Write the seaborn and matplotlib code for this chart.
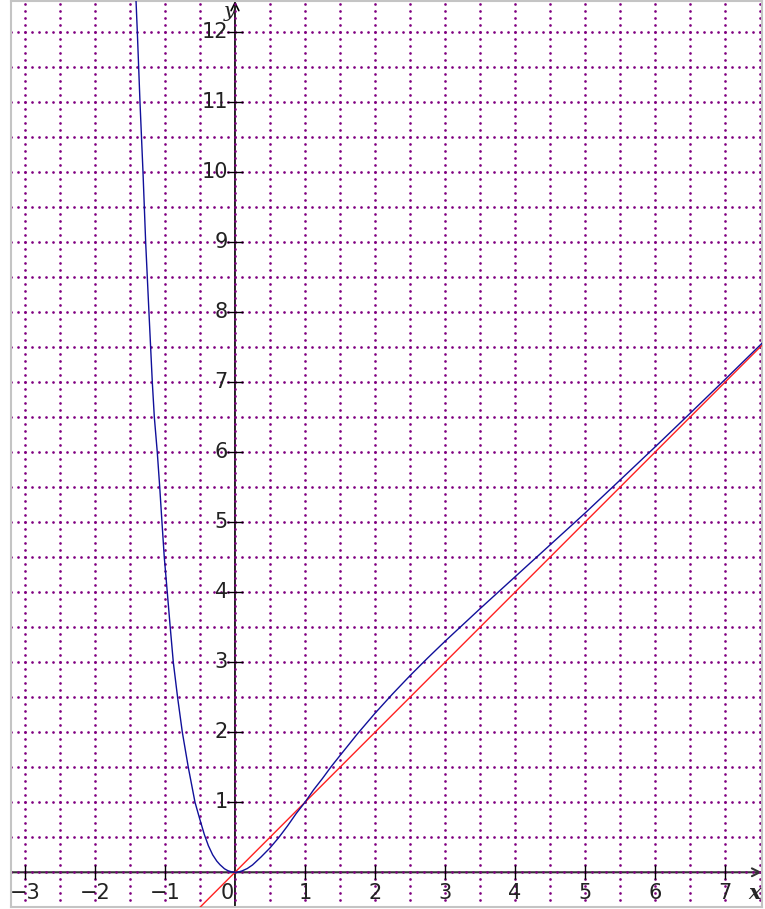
import matplotlib
matplotlib.use("Agg")
import matplotlib.pyplot as plt
import seaborn as sns
import pandas as pd
import numpy as np

# ---- data ----
curve_x = [-1.414, -1.395, -1.357, -1.314, -1.276, -1.229, -1.181, -1.152, -1.11, -1.075,
           -1.043, -1.01, -0.967, -0.925, -0.881, -0.82, -0.752, -0.667, -0.571, -0.5,
           -0.438, -0.38, -0.319, -0.26, -0.214, -0.15, -0.1, -0.05, 0.0, 0.05, 0.1,
           0.175, 0.25, 0.375, 0.5, 0.625, 0.75, 0.875, 1.0, 1.125, 1.25, 1.375, 1.5,
           1.75, 2.0, 2.25, 2.5, 2.75, 3.0, 3.5, 4.0, 4.5, 5.0, 5.5, 6.0, 6.5, 7.0, 7.6]
curve_y = [12.46, 12.0, 11.0, 10.0, 9.0, 8.0, 7.0, 6.5, 6.0, 5.5,
           5.0, 4.5, 4.0, 3.5, 3.0, 2.5, 2.0, 1.5, 1.0, 0.75,
           0.54, 0.38, 0.25, 0.16, 0.108, 0.05, 0.022, 0.006, 0.0, 0.004, 0.019,
           0.053, 0.104, 0.221, 0.348, 0.495, 0.661, 0.84, 1.0, 1.18, 1.34, 1.51, 1.667,
           1.978, 2.271, 2.546, 2.808, 3.058, 3.299, 3.764, 4.22, 4.675, 5.13, 5.601, 6.074, 6.554, 7.038, 7.626]
line_x = [-0.6, 7.6]
line_y = [-0.6, 7.6]
xtick_vals = [-3, -2, -1, 0, 1, 2, 3, 4, 5, 6, 7]
ytick_vals = [1, 2, 3, 4, 5, 6, 7, 8, 9, 10, 11, 12]
grid_step = 0.5

W, H = 765, 909
fig = plt.figure(figsize=(W / 100, H / 100), dpi=100)
sns.set_style("white")
plt.rcParams['font.family'] = ['DejaVu Sans']

ax = fig.add_axes([11 / W, 2 / H, 751 / W, 906 / H])
xmin, xmax = -3.2, 7.53
ymin, ymax = -0.496, 12.447
ax.set_xlim(xmin, xmax)
ax.set_ylim(ymin, ymax)

# dotted purple grid every 0.5
gx = np.arange(-3.0, 7.51, grid_step)
gy = np.arange(-0.5, 12.51, grid_step)
dot = (0, (0.01, 2.51))
gkw = dict(color="#800080", lw=2.0, ls=dot, dash_capstyle="round", zorder=2)
for v in gx:
    ax.axvline(v, **gkw)
for v in gy:
    ax.axhline(v, **gkw)

# axes with arrows
ax.annotate("", xy=(xmax, 0), xytext=(xmin, 0),
            arrowprops=dict(arrowstyle="->", lw=1.5, color="#333333", shrinkA=0, shrinkB=0,
                            mutation_scale=14), zorder=1)
ax.annotate("", xy=(0, ymax), xytext=(0, ymin),
            arrowprops=dict(arrowstyle="->", lw=1.2, color="black", shrinkA=0, shrinkB=0,
                            mutation_scale=14), zorder=1)

# tick marks
ax.vlines([t for t in xtick_vals if t != 0], -0.1, 0.11, color="black", lw=1.0, zorder=3)
ax.hlines(ytick_vals, -0.12, 0.12, color="black", lw=1.0, zorder=3)

# curves
df_c = pd.DataFrame({"x": curve_x, "y": curve_y})
df_l = pd.DataFrame({"x": line_x, "y": line_y})
sns.lineplot(data=df_l, x="x", y="y", ax=ax, color="#ff2020", lw=1.0, sort=False,
             estimator=None, zorder=4)
sns.lineplot(data=df_c, x="x", y="y", ax=ax, color="#10109a", lw=1.0, sort=False,
             estimator=None, zorder=5)

# tick labels
fs = 15
for t in xtick_vals:
    lab = str(t).replace("-", "\u2212")
    if t == 0:
        ax.text(-0.01, -0.16, lab, ha="right", va="top", fontsize=fs, color="#222222", zorder=6)
    else:
        ax.text(t, -0.16, lab, ha="center", va="top", fontsize=fs, color="#222222", zorder=6)
for t in ytick_vals:
    ax.text(-0.1, t, str(t), ha="right", va="center", fontsize=fs, color="#222222", zorder=6)

# axis names
ax.text(7.43, -0.30, "x", ha="center", va="center", fontsize=15, family="DejaVu Serif",
        style="italic", fontweight="bold", zorder=6)
ax.text(-0.08, 12.3, "y", ha="center", va="center", fontsize=15, family="DejaVu Serif",
        style="italic", zorder=6)

ax.set_xlabel("")
ax.set_ylabel("")
ax.set_xticks([])
ax.set_yticks([])
for s in ax.spines.values():
    s.set_color("#c4c4c4")
    s.set_linewidth(1.5)

fig.savefig("out.png", dpi=100)
